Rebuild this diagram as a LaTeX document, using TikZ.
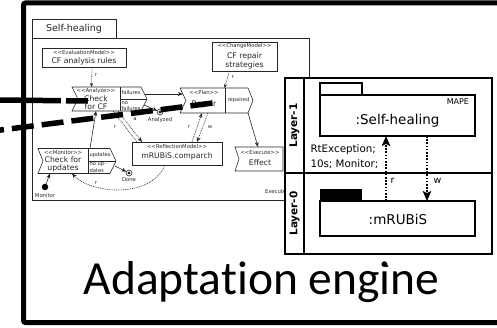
\documentclass[tikz,border=0pt]{standalone}
\usepackage{fontspec}
\setmainfont{DejaVu Sans}
\newfontfamily\calibrifont[Ligatures={NoCommon}]{Carlito}
\usetikzlibrary{arrows.meta}

\newcommand{\fsz}[1]{\fontsize{#1}{#1}\selectfont}
% UML stereotype brackets written as plain angle characters
\newcommand{\stt}[1]{<{}<#1>{}>}
% signal-like outline around an invisible node: #1 node, #2 notch depth, #3 tip depth
\newcommand{\sigshape}[3]{%
  \draw[scrline] (#1.north west) -- ([xshift=-#3pt]#1.north east) -- (#1.east)
    -- ([xshift=-#3pt]#1.south east) -- (#1.south west) -- ([xshift=#2pt]#1.west) -- cycle;}

\tikzset{
  every node/.style={inner sep=0pt, outer sep=0pt},
  scrline/.style={line width=0.6pt, black!85},
  mbox/.style={draw, scrline, rectangle, fill=white},
  slot/.style={rectangle, draw=none},
  stereo/.style={font=\fsz{5.3}, text=black!85},
  body/.style={font=\fsz{7.7}, text=black!85},
  pinlbl/.style={font=\fsz{5.2}, text=black!85},
  tinylbl/.style={font=\fsz{5.3}, text=black!85},
  sarrow/.style={scrline, -{Stealth[length=5pt,width=4pt]}},
  sdot/.style={scrline, dash pattern=on 0.9pt off 0.9pt},
  cut/.style={line width=5.5pt, black},
  layline/.style={line width=1.2pt, black},
  bigarrow/.style={line width=1.3pt, dash pattern=on 1.6pt off 1.6pt, -{Stealth[length=10pt,width=8.5pt,inset=2pt]}},
}

\begin{document}
\begin{tikzpicture}[x=1pt,y=-1pt]
\useasboundingbox (0,0) rectangle (497,328);

% ---------- outer engine frame ----------
\draw[line width=5pt, rounded corners=2pt] (510,3) -- (23.5,3) -- (23.5,322.5) -- (510,322.5);

% ---------- Self-healing feedback loop ----------
\node[draw, scrline, minimum width=84, minimum height=19, font=\fsz{9.5}] (tab) at (74,28.5) {Self-healing};
\node[draw, scrline, minimum width=277, minimum height=162] (frame) at (170.5,119) {};

% models
\node[mbox, minimum width=84, minimum height=19] (evalm) at (84,57.5) {};
\node[stereo] at (84,52.5) {\stt{EvaluationModel}};
\node[body] at (84,61.5) {CF analysis rules};

\node[mbox, minimum width=65, minimum height=29] (changem) at (244.5,56.5) {};
\node[stereo] at (244.5,46.5) {\stt{ChangeModel}};
\node[body] at (244.5,56) {CF repair};
\node[body] at (244.5,65) {strategies};

\node[mbox, minimum width=90, minimum height=23] (reflm) at (177,153.5) {};
\node[stereo] at (177,147) {\stt{ReflectionModel}};
\node[body] at (177,156.5) {mRUBiS.comparch};

% Analyze
\node[slot, minimum width=75, minimum height=24] (analyze) at (109.5,99) {};
\sigshape{analyze}{6}{6}
\draw[scrline] (120,87) -- (120,111) (120,99) -- (analyze.east);
\node[stereo] at (96,91) {\stt{Analyze}};
\node[body] at (96,98.5) {Check};
\node[body] at (96,106.5) {for CF};
\node[pinlbl, anchor=west] at (121.5,93) {failures};
\node[pinlbl, anchor=west] at (121.5,103) {no};
\node[pinlbl, anchor=west] at (121.5,108.5) {failures};

% Plan
\node[slot, minimum width=73, minimum height=25] (plan) at (216.5,100.5) {};
\sigshape{plan}{6}{5}
\draw[scrline] (225,88) -- (225,113);
\node[stereo] at (204,93) {\stt{Plan}};
\node[body] at (204,104) {Repair};
\node[pinlbl] at (238.5,100.5) {repaired};

% Monitor
\node[slot, minimum width=78, minimum height=25] (monitor) at (77,161) {};
\sigshape{monitor}{5}{6}
\draw[scrline] (88,148.5) -- (88,173.5) (88,161) -- (monitor.east);
\node[stereo] at (63,152.5) {\stt{Monitor}};
\node[body] at (63,159.5) {Check for};
\node[body] at (63,168.5) {updates};
\node[pinlbl, anchor=west] at (89.5,155) {updates};
\node[pinlbl, anchor=west] at (89.5,165) {no up-};
\node[pinlbl, anchor=west] at (89.5,170.5) {dates};

% Execute
\node[slot, minimum width=48, minimum height=24] (execute) at (259,159) {};
\sigshape{execute}{4}{0}
\node[stereo] at (260,153) {\stt{Execute}};
\node[body] at (260,163) {Effect};
\node[tinylbl, anchor=west] at (265,192) {Execute};

% control nodes
\node[circle, draw, scrline, fill=white, minimum size=6] (analyzed) at (160,112) {};
\fill[black!85] (analyzed) circle (1.7);
\node[tinylbl] at (160,120) {Analyzed};
\node[circle, draw, scrline, fill=white, minimum size=6] (done) at (129,173) {};
\fill[black!85] (done) circle (1.7);
\node[tinylbl] at (129,180) {Done};
\node[circle, fill=black, minimum size=6.5] (start) at (45,187) {};
\node[tinylbl] at (45,196) {Monitor};

% control flow
\draw[sarrow] ([xshift=-2.5pt,yshift=5pt]analyze.east) -- ([xshift=2.9pt,yshift=6.5pt]plan.west);
\draw[sarrow] ([xshift=-3pt,yshift=-6pt]analyze.east) -- (analyzed);
\draw[sarrow] ([xshift=13pt]monitor.north) -- ([xshift=-13.5pt]analyze.south);
\draw[sarrow] ([xshift=-1pt,yshift=-5pt]monitor.east) -- (done);
\draw[sarrow] (start) -- ([xshift=-27pt]monitor.south);
\draw[sarrow] ([xshift=-5pt]plan.south east) -- ([xshift=-1pt]execute.north);

% model access
\draw[sdot, -{Stealth[length=4pt,width=3.2pt]}] ([xshift=8pt]evalm.south) -- ([xshift=-18pt]analyze.north);
\node[tinylbl] at (96,75) {r};
\draw[sdot, -{Stealth[length=4pt,width=3.2pt]}] ([xshift=-15pt]changem.south) -- ([xshift=8pt]plan.north);
\node[tinylbl] at (233,77) {r};
\draw[sdot] ([xshift=3.5pt]analyze.south) -- ([xshift=-40pt]reflm.north);
\draw[sdot, -{Stealth[length=5pt,width=4pt]}] ([xshift=8.5pt]analyze.south) -- ([xshift=-35pt]reflm.north);
\node[tinylbl] at (115,127) {r};
\node[tinylbl] at (135,119) {a};
\draw[sdot, -{Stealth[length=5pt,width=4pt]}] ([xshift=15pt]reflm.north) -- ([xshift=-14.5pt]plan.south);
\draw[sdot, -{Stealth[length=5pt,width=4pt]}] ([xshift=-8.5pt]plan.south) -- ([xshift=20pt]reflm.north);
\node[tinylbl] at (189,127) {r};
\node[tinylbl] at (210,127) {w};
\draw[sdot, -{Stealth[length=5pt,width=4pt]}] ([xshift=-12pt]reflm.south) .. controls (150,200) and (90,193) .. ([xshift=-5pt]monitor.south);
\node[tinylbl] at (96,183.5) {r};

% ---------- cut strokes ----------
\coordinate (c1a) at (-3,100);
\coordinate (c1b) at (88,101);
\coordinate (c2a) at (-3,130.5);
\coordinate (c2b) at (213,103);
\draw[cut, dash pattern=on 64pt off 5pt] (c1a) -- (c1b);
\draw[cut, dash pattern=on 22pt off 8pt, dash phase=15pt] (c2a) -- (c2b);

% ---------- layers ----------
\node[draw, layline, fill=white, minimum width=207, minimum height=176] (layers) at (388.5,166) {};
\draw[layline] (304,78) -- (304,254);
\draw[layline] (285,173) -- (492,173);
\node[rotate=90, font=\bfseries\fsz{10.5}] at (294.5,125.5) {Layer-1};
\node[rotate=90, font=\bfseries\fsz{10.5}] at (294.5,213.5) {Layer-0};

\draw[layline] (320,95) rectangle (362,83);
\node[draw, layline, minimum width=155, minimum height=41] (shinst) at (397.5,115.5) {};
\node[font=\fsz{8}, anchor=east] at (469,102) {MAPE};
\node[font=\fsz{13.5}] at (397.5,121) {:Self-healing};

\fill[black] (320,201) rectangle (362,189);
\node[draw, layline, minimum width=155, minimum height=35] (mrinst) at (397.5,218.5) {};
\node[font=\fsz{13.5}] at (398,219) {:mRUBiS};

\draw[bigarrow] ([xshift=-11.5pt]mrinst.north) -- ([xshift=-11.5pt]shinst.south);
\draw[bigarrow] ([xshift=29.5pt]shinst.south) -- ([xshift=29.5pt]mrinst.north);
\node[font=\fsz{9.5}] at (392.5,181) {r};
\node[font=\fsz{9.5}] at (437.5,181) {w};
\node[font=\fsz{10.3}, anchor=west] at (310.5,150) {RtException;};
\node[font=\fsz{10.3}, anchor=west] at (310.5,164) {10s; Monitor;};

\fill (387,266) circle (1.4);

% ---------- caption ----------
\node[font=\calibrifont\fsz{47.5}, anchor=base] (caption) at (261.5,294) {Adaptation engine};
\end{tikzpicture}
\end{document}
